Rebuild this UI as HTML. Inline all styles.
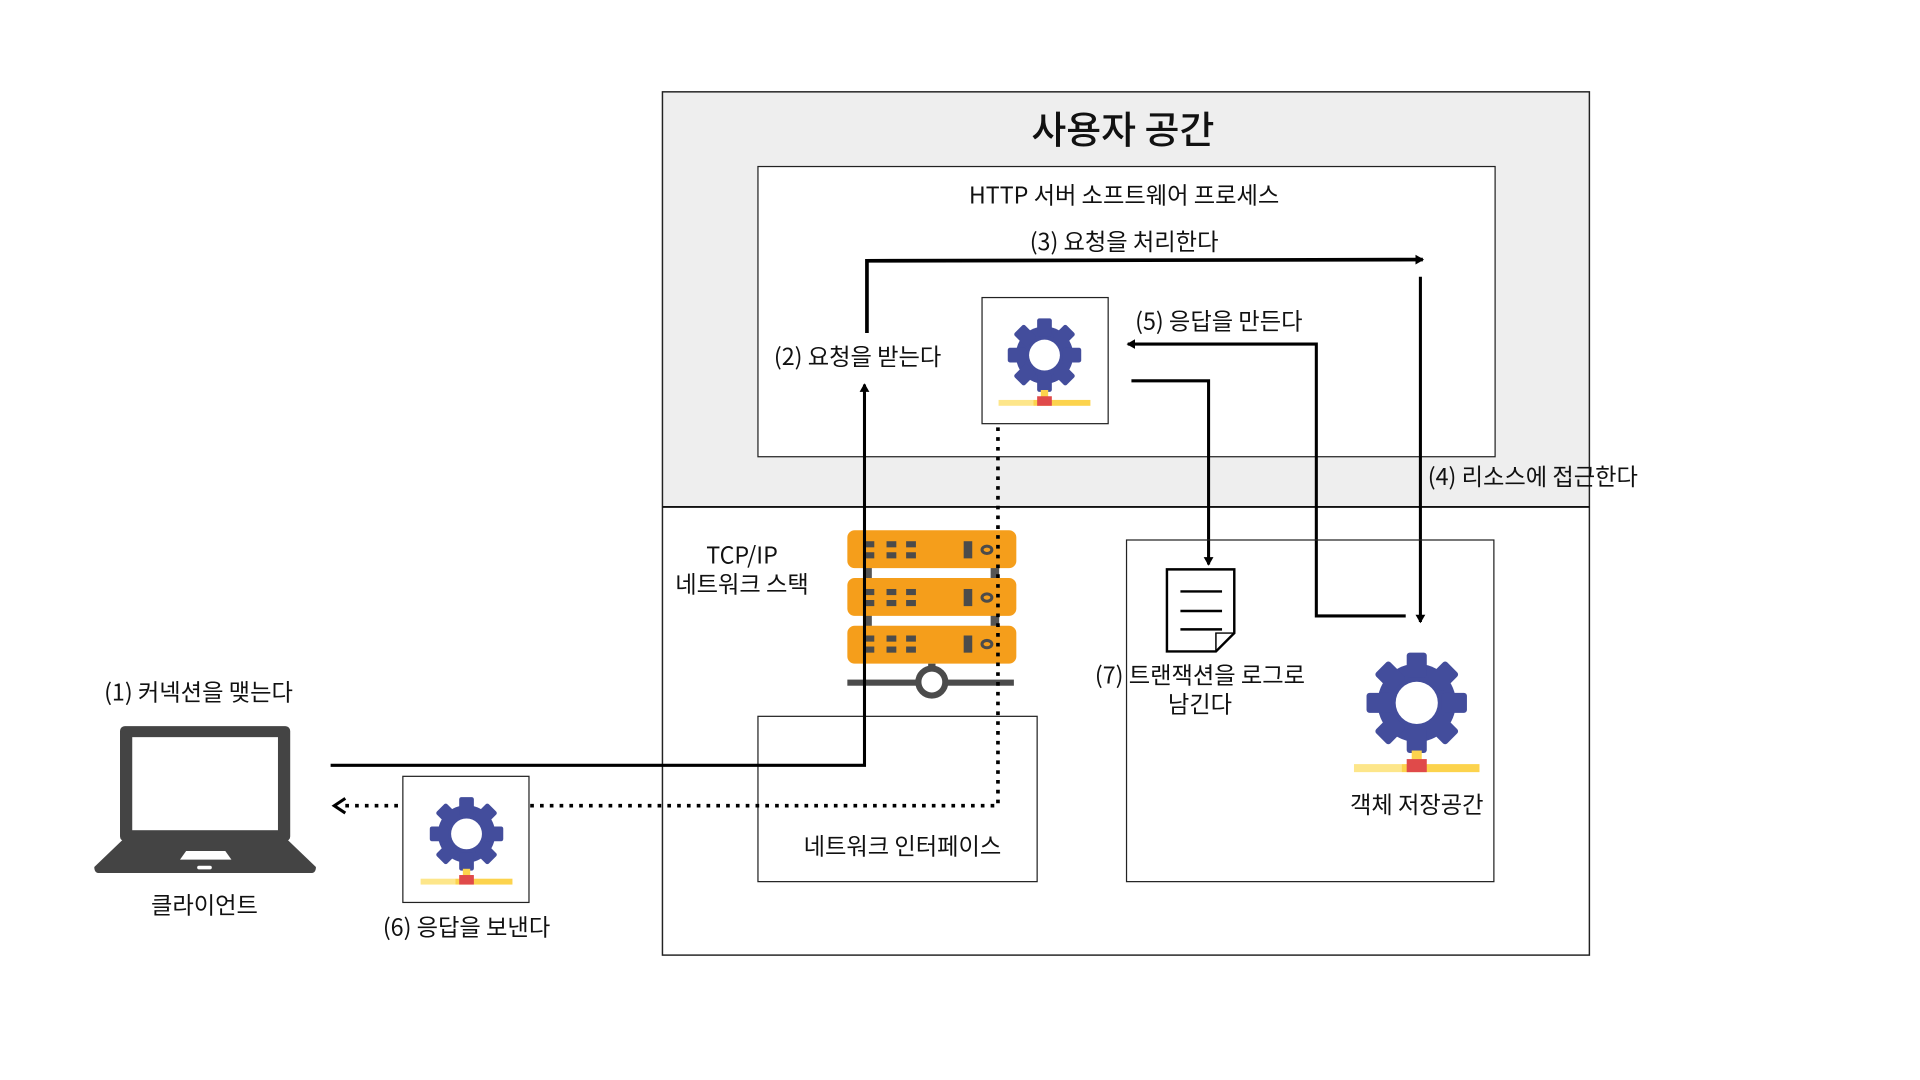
<!DOCTYPE html>
<html><head><meta charset="utf-8"><style>
html,body{margin:0;padding:0;background:#fff;width:1920px;height:1080px;overflow:hidden}
svg{display:block}
text{font-family:"Noto Sans CJK KR","Liberation Sans",sans-serif;fill:#111}
</style></head><body>
<svg width="1920" height="1080" viewBox="0 0 1568 882" xmlns="http://www.w3.org/2000/svg">
<defs>
<g id="gear">
<g fill="#434d9c">
<circle r="0.78"/>
<rect x="-0.2" y="-1" width="0.4" height="0.5" rx="0.06"/>
<rect x="-0.2" y="-1" width="0.4" height="0.5" rx="0.06" transform="rotate(45)"/>
<rect x="-0.2" y="-1" width="0.4" height="0.5" rx="0.06" transform="rotate(90)"/>
<rect x="-0.2" y="-1" width="0.4" height="0.5" rx="0.06" transform="rotate(135)"/>
<rect x="-0.2" y="-1" width="0.4" height="0.5" rx="0.06" transform="rotate(180)"/>
<rect x="-0.2" y="-1" width="0.4" height="0.5" rx="0.06" transform="rotate(225)"/>
<rect x="-0.2" y="-1" width="0.4" height="0.5" rx="0.06" transform="rotate(270)"/>
<rect x="-0.2" y="-1" width="0.4" height="0.5" rx="0.06" transform="rotate(315)"/>
</g>
<circle r="0.42" fill="#fff"/>
<rect x="-0.1" y="0.95" width="0.2" height="0.22" fill="#fcd34d"/>
<rect x="-1.25" y="1.22" width="0.95" height="0.16" fill="#fde68a"/>
<rect x="-0.3" y="1.22" width="1.55" height="0.16" fill="#fcd34d"/>
<rect x="-0.2" y="1.12" width="0.4" height="0.26" fill="#e04a4a"/>
</g>
<marker id="ar" markerWidth="8" markerHeight="8" refX="6" refY="4" orient="auto" markerUnits="userSpaceOnUse"><path d="M0,0 L7,4 L0,8 Z" fill="#000"/></marker>
</defs>

<rect x="541" y="75" width="757" height="339" fill="#eeeeee"/>
<rect x="541" y="75" width="757" height="705" fill="none" stroke="#222" stroke-width="1.2"/>
<line x1="541" y1="414" x2="1298" y2="414" stroke="#111" stroke-width="1.6"/>
<text x="917" y="117" font-size="31" text-anchor="middle" font-weight="500">사용자 공간</text>

<rect x="619" y="136" width="602" height="237" fill="#fff" stroke="#222" stroke-width="1"/>
<text x="918" y="166" font-size="19" text-anchor="middle">HTTP 서버 소프트웨어 프로세스</text>
<text x="918" y="204" font-size="19" text-anchor="middle">(3) 요청을 처리한다</text>
<text x="632" y="298" font-size="19">(2) 요청을 받는다</text>
<text x="927" y="269" font-size="19">(5) 응답을 만든다</text>
<text x="1166" y="396" font-size="19">(4) 리소스에 접근한다</text>

<rect x="802" y="243" width="103" height="103" fill="#fff" stroke="#222" stroke-width="1"/>
<use href="#gear" transform="translate(853,290) scale(30)"/>

<polyline points="708,272 708,213 1162,212" fill="none" stroke="#000" stroke-width="3" marker-end="url(#ar)"/>
<polyline points="1160,226 1160,508" fill="none" stroke="#000" stroke-width="2.5" marker-end="url(#ar)"/>
<polyline points="1148,503 1075,503 1075,281 921,281" fill="none" stroke="#000" stroke-width="2.5" marker-end="url(#ar)"/>
<polyline points="924,311 987,311 987,461" fill="none" stroke="#000" stroke-width="2.5" marker-end="url(#ar)"/>

<g>
<rect x="705" y="460" width="7" height="60" fill="#555"/>
<rect x="809" y="460" width="7" height="60" fill="#555"/>
<rect x="692" y="433" width="138" height="31" rx="6" fill="#f59e1b"/>
<rect x="692" y="472" width="138" height="31" rx="6" fill="#f59e1b"/>
<rect x="692" y="511" width="138" height="31" rx="6" fill="#f59e1b"/>
<g fill="#4b4b4b">
<rect x="706" y="442" width="8" height="5"/><rect x="724" y="442" width="8" height="5"/><rect x="740" y="442" width="8" height="5"/>
<rect x="706" y="451" width="8" height="5"/><rect x="724" y="451" width="8" height="5"/><rect x="740" y="451" width="8" height="5"/>
<rect x="706" y="481" width="8" height="5"/><rect x="724" y="481" width="8" height="5"/><rect x="740" y="481" width="8" height="5"/>
<rect x="706" y="490" width="8" height="5"/><rect x="724" y="490" width="8" height="5"/><rect x="740" y="490" width="8" height="5"/>
<rect x="706" y="519" width="8" height="5"/><rect x="724" y="519" width="8" height="5"/><rect x="740" y="519" width="8" height="5"/>
<rect x="706" y="528" width="8" height="5"/><rect x="724" y="528" width="8" height="5"/><rect x="740" y="528" width="8" height="5"/>
<rect x="787" y="442" width="7" height="14"/><rect x="787" y="481" width="7" height="14"/><rect x="787" y="519" width="7" height="14"/>
<rect x="758" y="542" width="6" height="8"/>
<rect x="692" y="555" width="136" height="5"/>
</g>
<g fill="none" stroke="#4b4b4b" stroke-width="2.5">
<ellipse cx="806" cy="449" rx="4" ry="3"/><ellipse cx="806" cy="488" rx="4" ry="3"/><ellipse cx="806" cy="526" rx="4" ry="3"/>
</g>
<circle cx="761" cy="557" r="11" fill="#fff" stroke="#4b4b4b" stroke-width="5"/>
</g>
<text x="606" y="460" font-size="19" text-anchor="middle">TCP/IP</text>
<text x="606" y="484" font-size="19" text-anchor="middle">네트워크 스택</text>

<rect x="619" y="585" width="228" height="135" fill="none" stroke="#222" stroke-width="1"/>
<text x="737" y="698" font-size="19" text-anchor="middle">네트워크 인터페이스</text>

<rect x="920" y="441" width="300" height="279" fill="none" stroke="#222" stroke-width="1"/>
<path d="M953,465 L1008,465 L1008,517 L993,532 L953,532 Z" fill="#fff" stroke="#000" stroke-width="2"/>
<path d="M993,532 L993,517 L1008,517" fill="none" stroke="#000" stroke-width="1.2"/>
<g stroke="#000" stroke-width="2"><line x1="964" y1="483" x2="998" y2="483"/><line x1="964" y1="499" x2="998" y2="499"/><line x1="964" y1="514" x2="998" y2="514"/></g>
<text x="980" y="558" font-size="19" text-anchor="middle">(7) 트랜잭션을 로그로</text>
<text x="980" y="582" font-size="19" text-anchor="middle">남긴다</text>
<use href="#gear" transform="translate(1157,574) scale(41)"/>
<text x="1157" y="664" font-size="19" text-anchor="middle">객체 저장공간</text>

<polyline points="270,625 706,625 706,314" fill="none" stroke="#000" stroke-width="2.5" marker-end="url(#ar)"/>
<polyline points="815,349 815,658 432,658" fill="none" stroke="#000" stroke-width="3" stroke-dasharray="3,5"/>
<line x1="325" y1="658" x2="282" y2="658" stroke="#000" stroke-width="3" stroke-dasharray="3,5"/>
<polyline points="282,652 273,658 282,664" fill="none" stroke="#000" stroke-width="2.5"/>

<rect x="329" y="634" width="103" height="103" fill="#fff" stroke="#222" stroke-width="1"/>
<use href="#gear" transform="translate(381,681) scale(30)"/>
<text x="381" y="764" font-size="19" text-anchor="middle">(6) 응답을 보낸다</text>

<rect x="98" y="593" width="139" height="94" rx="4" fill="#444"/>
<rect x="108" y="602" width="119" height="76" fill="#fff"/>
<path d="M100,686 L235,686 L258,708 Q258,713 254,713 L81,713 Q77,713 77,708 Z" fill="#444"/>
<path d="M147,702 L152,695 L184,695 L189,702 Z" fill="#fff"/>
<rect x="161" y="707" width="12" height="3" rx="1.5" fill="#fff"/>
<text x="85" y="572" font-size="19">(1) 커넥션을 맺는다</text>
<text x="167" y="746" font-size="19" text-anchor="middle">클라이언트</text>
</svg>
</body></html>
